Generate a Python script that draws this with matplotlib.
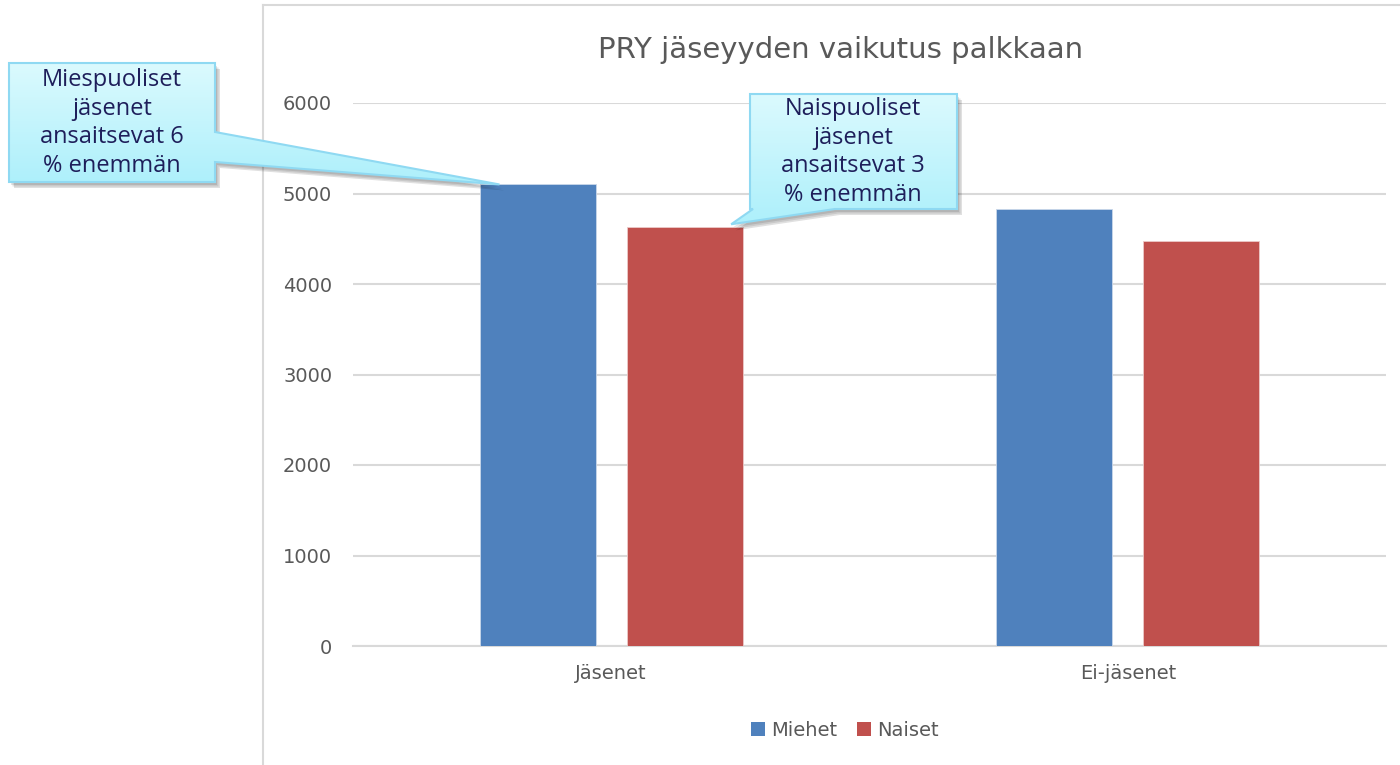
import numpy as np
import matplotlib
matplotlib.use('Agg')
import matplotlib.pyplot as plt
from matplotlib.patches import Polygon, Patch

categories = ['Jäsenet', 'Ei-jäsenet']
series_names = ['Miehet', 'Naiset']
miehet = [5100, 4830]
naiset = [4630, 4480]
yticks = [0, 1000, 2000, 3000, 4000, 5000, 6000]
title = 'PRY jäseyyden vaikutus palkkaan'
callout_texts = ['Miespuoliset\njäsenet\nansaitsevat 6\n% enemmän',
                 'Naispuoliset\njäsenet\nansaitsevat 3\n% enemmän']

plt.rcParams['font.family'] = ['DejaVu Sans']

W, H = 1400, 765
fig = plt.figure(figsize=(14, 7.65), dpi=100)
ax = fig.add_axes([353 / W, 1 - 646 / H, (1386 - 353) / W, (646 - 103) / H])

BLUE = '#4f81bd'
RED = '#c0504d'
GRAY = '#595959'
GRID = '#d9d9d9'

x = np.arange(len(categories))
bw = 0.2246
off = 0.1423
b1 = ax.bar(x - off, miehet, bw, color=BLUE, edgecolor='#c9d7ea', linewidth=0.6, zorder=3)
b2 = ax.bar(x + off, naiset, bw, color=RED, edgecolor='#ecc9c8', linewidth=0.6, zorder=3)
ax.set_xlim(-0.5, 1.5)
ax.set_ylim(0, 6000)
ax.set_yticks(yticks)
ax.set_yticklabels([str(v) for v in yticks])
ax.set_xticks(x)
ax.set_xticklabels(categories)
ax.yaxis.grid(True, color=GRID, linewidth=1.5)
ax.set_axisbelow(True)
for s in ['top', 'right', 'left']:
    ax.spines[s].set_visible(False)
ax.spines['bottom'].set_color(GRID)
ax.spines['bottom'].set_linewidth(1.5)
ax.tick_params(axis='y', length=0, pad=15, labelsize=14, labelcolor=GRAY)
ax.tick_params(axis='x', length=0, pad=13, labelsize=14, labelcolor=GRAY)

fig.text(841 / W, 1 - 50 / H, title, ha='center', va='center', fontsize=21, color=GRAY)

handles = [Patch(facecolor=BLUE, label=series_names[0]), Patch(facecolor=RED, label=series_names[1])]
fig.legend(handles=handles, loc='center', bbox_to_anchor=(845 / W, 1 - 730 / H), ncol=2,
           frameon=False, handlelength=0.7, handleheight=0.7, handletextpad=0.35,
           columnspacing=1.0, fontsize=14, labelcolor=GRAY)

# overlay in pixel coordinates
ov = fig.add_axes([0, 0, 1, 1], zorder=10)
ov.set_xlim(0, W)
ov.set_ylim(H, 0)
ov.axis('off')
ov.patch.set_alpha(0)

ov.plot([263, 263], [5, H], color=GRID, lw=1.5, zorder=1)
ov.plot([263, W], [5, 5], color=GRID, lw=1.5, zorder=1)


def to_px(xd, yd):
    d = ax.transData.transform((xd, yd))
    return d[0], H - d[1]


bar1 = b1[0]
bar2 = b2[0]
tip1 = to_px(bar1.get_x() + bar1.get_width() * 0.17, bar1.get_height())
tip2 = to_px(bar2.get_x() + bar2.get_width() * 0.9, bar2.get_height() + 30)

poly1 = [(9, 63), (215, 63), (215, 132), tip1, (215, 162), (215, 182), (9, 182)]
poly2 = [(750, 94), (957, 94), (957, 209), (835, 209), tip2, (753, 209), (750, 209)]

top_c = np.array([0.86, 0.98, 0.995])
bot_c = np.array([0.68, 0.94, 0.985])


def callout(poly, text, center):
    pts = np.array(poly)
    for i, a in enumerate([0.10, 0.10, 0.12]):
        d = 2 + i * 1.5
        ov.add_patch(Polygon(pts + np.array([d, d + 1]), closed=True, facecolor='#000000',
                             edgecolor='none', alpha=a, zorder=4))
    ov.add_patch(Polygon(pts, closed=True, facecolor='white', edgecolor='none', zorder=5))
    x0, y0 = pts.min(axis=0)
    x1, y1 = pts.max(axis=0)
    t = np.linspace(0, 1, 100)[:, None]
    grad = (top_c * (1 - t) + bot_c * t)[:, None, :]
    im = ov.imshow(grad, extent=(x0, x1, y1, y0), origin='upper', aspect='auto',
                   zorder=6, interpolation='bilinear')
    clip = Polygon(pts, closed=True, facecolor='none', edgecolor='none', transform=ov.transData)
    im.set_clip_path(clip)
    ov.add_patch(Polygon(pts, closed=True, facecolor='none', edgecolor='#8fd9f2', lw=1.5, zorder=7))
    ov.text(center[0], center[1], text, ha='center', va='center', multialignment='center',
            fontsize=17, color='#1e1e5a', linespacing=1.27, zorder=8,
            family=['Open Sans', 'DejaVu Sans'])


callout(poly1, callout_texts[0], (112, 123))
callout(poly2, callout_texts[1], (853, 152))
ov.set_xlim(0, W)
ov.set_ylim(H, 0)

fig.savefig('out.png', dpi=100)
